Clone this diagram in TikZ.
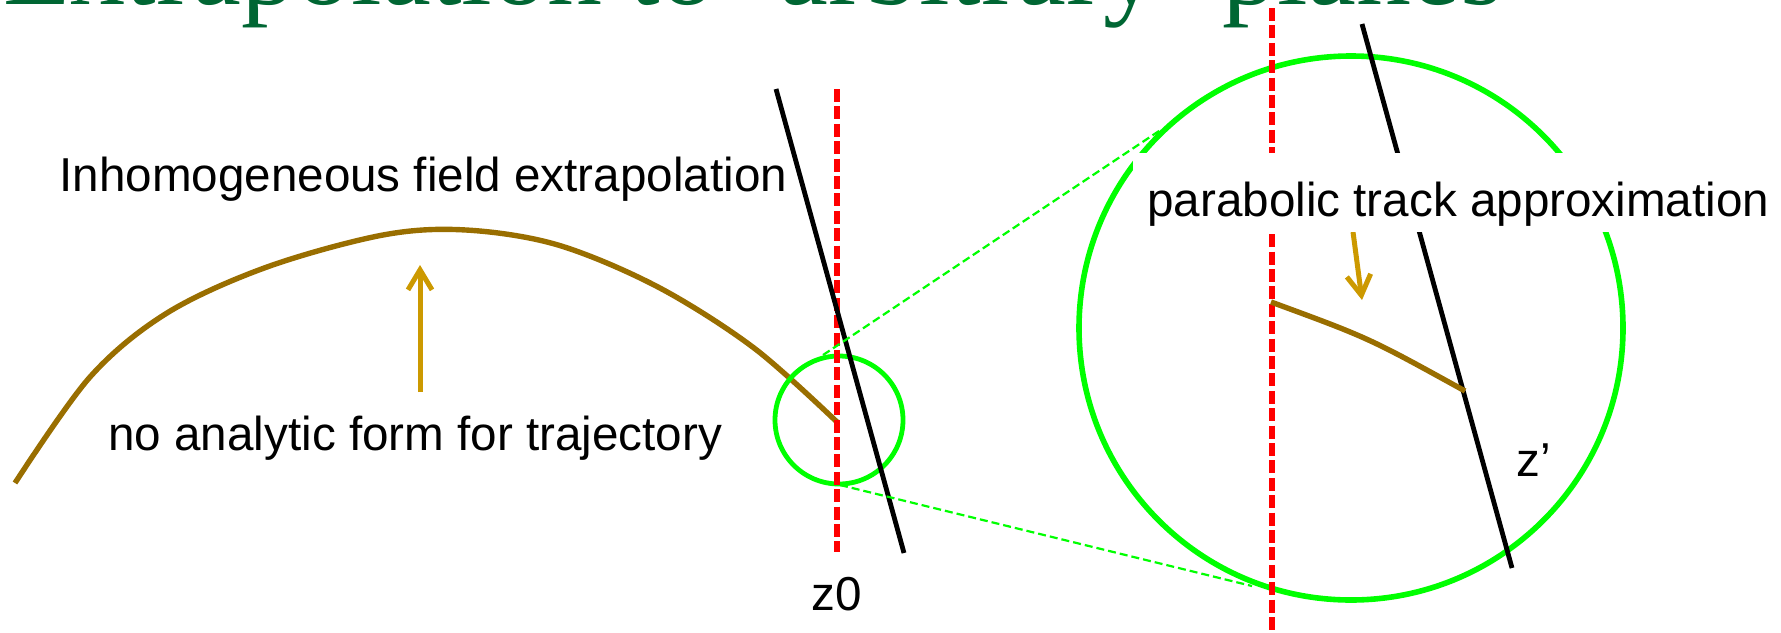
\documentclass[tikz,border=0pt]{standalone}
\usepackage{fontspec}
\setmainfont{Liberation Serif}
\setsansfont{Liberation Sans}
\usetikzlibrary{arrows.meta}
\definecolor{titlegreen}{RGB}{0,102,51}
\definecolor{brightgreen}{RGB}{0,255,0}
\definecolor{trackbrown}{RGB}{153,110,0}
\definecolor{arrowgold}{RGB}{204,153,0}
\begin{document}
\begin{tikzpicture}[x=0.5pt,y=-0.5pt,
  lbl/.style={inner sep=0pt, anchor=base west, font=\sffamily\fontsize{23.8}{28}\selectfont},
  track/.style={draw=trackbrown, line width=2.7pt},
  plane/.style={draw=black, line width=2.4pt},
  refplane/.style={draw=red, line width=2.6pt, dash pattern=on 6.5pt off 2.2pt},
  lens/.style={draw=brightgreen, line width=2.4pt},
  zoomline/.style={draw=brightgreen, line width=1.1pt, dash pattern=on 4pt off 2pt},
  pointer/.style={draw=arrowgold, line width=2.5pt, -{Straight Barb[length=10pt,width=12pt]}}]
\useasboundingbox (0,0) rectangle (1781,632);
\clip (0,0) rectangle (1781,632);

% title (cut off at top)
\node[inner sep=0pt, anchor=base west, text=titlegreen, font=\fontsize{55}{60}\selectfont] (title) at (3,4) {Extrapolation to ‘arbitrary’ planes};

% named points
\coordinate (trackstart) at (15,483);
\coordinate (trackend) at (837,422);
\coordinate (ztop) at (837,89);
\coordinate (zbot) at (837,552);
\coordinate (rtop) at (1272,8);
\coordinate (rbot) at (1272,640);
\coordinate (p1a) at (776,89);
\coordinate (p1b) at (904,553);
\coordinate (p2a) at (1362,24);
\coordinate (p2b) at (1512,568);
\coordinate (smallc) at (839,420);
\coordinate (bigc) at (1351,328);
\coordinate (zoomA) at (823,355);
\coordinate (zoomB) at (1162,129);
\coordinate (zoomC) at (840,485);
\coordinate (zoomD) at (1252,586);
\coordinate (parS) at (1271,302);
\coordinate (parE) at (1465,391);

% left: inhomogeneous track
\draw[track] plot[smooth, tension=0.55] coordinates {(trackstart) (90,377) (167,313) (267,267) (383,235) (466,230) (558,245) (658,287) (754,348) (trackend)};
\draw[lens] (smallc) circle[radius=64];
\draw[refplane] (ztop) -- (zbot);
\draw[plane] (p1a) -- (p1b);

% zoom lines
\draw[zoomline] (zoomA) -- (zoomB);
\draw[zoomline] (zoomC) -- (zoomD);

% right: magnified view
\draw[lens, line width=2.8pt] (bigc) circle[radius=272];
\draw[refplane] (rtop) -- (rbot);
\draw[plane] (p2a) -- (p2b);
\draw[track] (parS) .. controls (1369,338) .. (parE);

% pointers
\draw[pointer] (420,392) -- (420,265);
\draw[pointer] (1353,232) -- (1362,300);

% labels
\node[lbl] (inhom) at (59,191) {Inhomogeneous field extrapolation};
\node[lbl] (noan) at (108,450) {no analytic form for trajectory};
\node[lbl] (z0) at (811,610) {z0};
\node[lbl] (zp) at (1516,476) {z’};
\node[lbl, fill=white, inner xsep=7pt, text height=31.5pt, text depth=8pt] (para) at (1133,216) {parabolic track approximation};
\end{tikzpicture}
\end{document}
